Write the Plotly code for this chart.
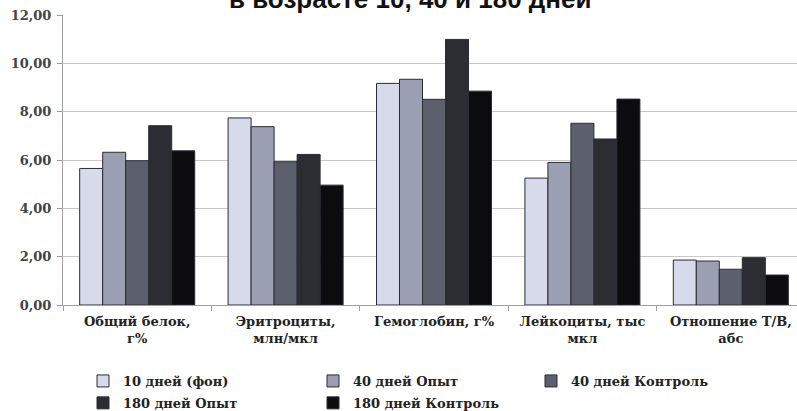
import plotly.graph_objects as go

# Blood indicators by age group
categories = [
    "Общий белок,<br>г%",
    "Эритроциты,<br>млн/мкл",
    "Гемоглобин, г%",
    "Лейкоциты, тыс<br>мкл",
    "Отношение Т/В,<br>абс",
]
series_names = [
    "10 дней (фон)",
    "40 дней Опыт",
    "40 дней Контроль",
    "180 дней Опыт",
    "180 дней Контроль",
]
day10_bg = [5.65, 7.74, 9.17, 5.25, 1.86]
day40_exp = [6.32, 7.38, 9.34, 5.90, 1.82]
day40_ctrl = [5.97, 5.93, 8.51, 7.52, 1.48]
day180_exp = [7.42, 6.23, 10.99, 6.87, 1.96]
day180_ctrl = [6.38, 4.96, 8.85, 8.52, 1.24]
y_ticks = [0, 2, 4, 6, 8, 10, 12]
title_text = "в возрасте 10, 40 и 180 дней"

series_values = [day10_bg, day40_exp, day40_ctrl, day180_exp, day180_ctrl]
colors = ["#d7daeb", "#9b9fb2", "#5c606c", "#2c2d33", "#0c0c0e"]
legend_ids = ["legend", "legend2", "legend3", "legend", "legend2"]

serif = "DejaVu Serif"

fig = go.Figure()
for name, vals, col, lg in zip(series_names, series_values, colors, legend_ids):
    fig.add_trace(go.Bar(
        x=categories, y=vals, name=name,
        marker=dict(color=col, line=dict(color="#2a2b36", width=1)),
        legend=lg, legendgroup=name,
    ))

legend_common = dict(
    orientation="v", xanchor="left", yanchor="top",
    yref="container",
    font=dict(family=serif, size=13, color="#222222", weight="bold"),
    bgcolor="rgba(0,0,0,0)", tracegroupgap=2,
    itemwidth=30,
)
# plot area spans x 63..797 and y 15..305 in the 797x411 page
legend_top = 1 - 366 / 411

fig.update_layout(
    width=797, height=411,
    margin=dict(l=63, r=0, t=15, b=106),
    paper_bgcolor="white", plot_bgcolor="white",
    barmode="group", bargap=0.225, bargroupgap=0,
    separators=", ",
    showlegend=True,
    legend=dict(x=(83 - 63) / 734, y=legend_top, **legend_common),
    legend2=dict(x=(313 - 63) / 734, y=legend_top, **legend_common),
    legend3=dict(x=(531 - 63) / 734, y=legend_top, **legend_common),
    xaxis=dict(
        type="category", range=[-0.5, 4.446], automargin=False,
        showline=True, linecolor="#a0a0a0", linewidth=1,
        ticks="outside", tickson="boundaries", ticklen=5, tickcolor="#a0a0a0",
        tickfont=dict(family=serif, size=13, color="#222222", weight="bold"),
        ticklabelstandoff=4,
        showgrid=False,
    ),
    yaxis=dict(
        range=[0, 12], tickvals=y_ticks, tickformat=".2f", automargin=False,
        showline=True, linecolor="#a0a0a0", linewidth=1,
        ticks="outside", ticklen=5, tickcolor="#a0a0a0",
        gridcolor="#c8c8c8", gridwidth=1, ticklabelstandoff=3,
        tickfont=dict(family=serif, size=13, color="#444444", weight="bold"),
        zeroline=False,
    ),
    annotations=[dict(
        text=title_text, xref="paper", yref="paper", x=0.474, y=0.995,
        xanchor="center", yanchor="bottom", showarrow=False,
        font=dict(family="Liberation Sans", size=26, color="#111111", weight="bold"),
    )],
)

fig.write_html("out.html")
